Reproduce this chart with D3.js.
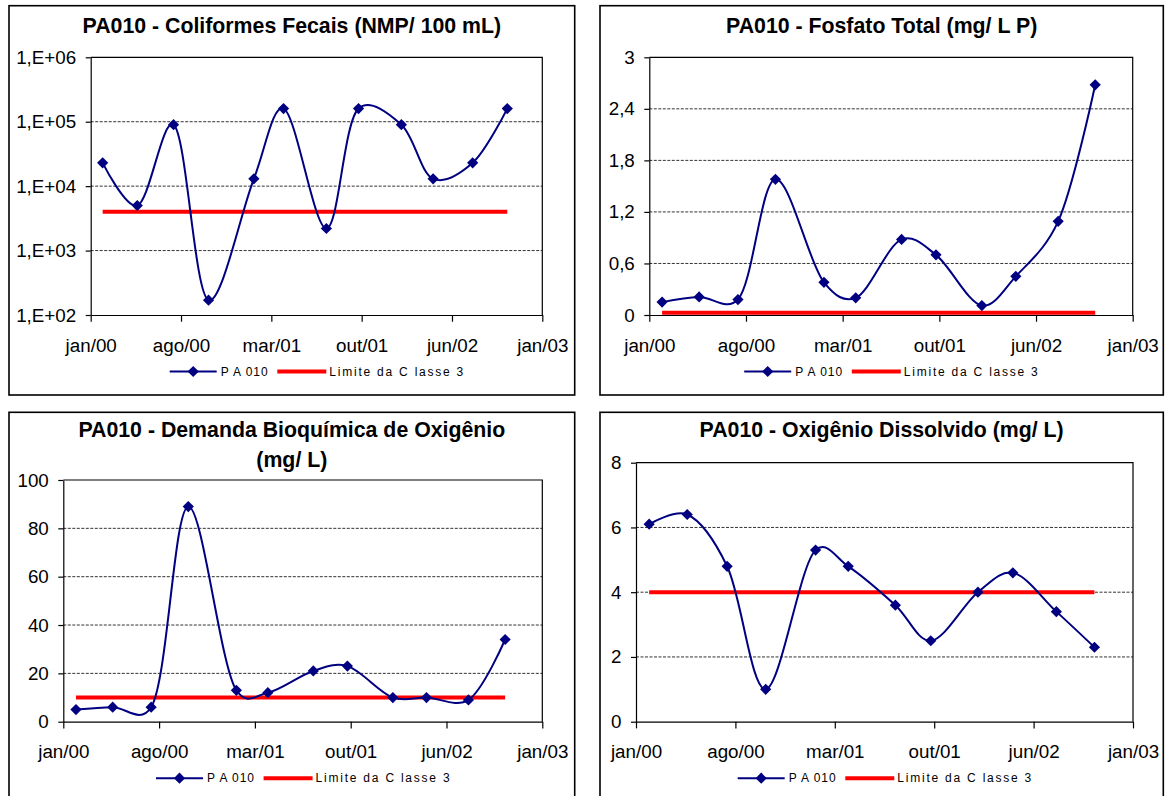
<!DOCTYPE html>
<html>
<head>
<meta charset="utf-8">
<script src="https://cdn.jsdelivr.net/npm/d3@7"></script>
<style>
  html, body { margin: 0; padding: 0; background: #fff; }
  svg { display: block; }
  text { font-family: "Liberation Sans", Arial, sans-serif; fill: #000; }
</style>
</head>
<body>
<script>
// ---------------- DATA ----------------
const sampleDates = ["2000-01-30","2000-04-23","2000-07-20","2000-10-13","2001-01-31","2001-04-13",
                     "2001-07-26","2001-10-12","2002-01-24","2002-04-11","2002-07-16","2002-10-08"];
const coliformes = [23000, 5000, 90000, 170, 13000, 160000, 2200, 160000, 90000, 13000, 23000, 160000];
const fosfato    = [0.15, 0.21, 0.18, 1.58, 0.38, 0.20, 0.88, 0.70, 0.11, 0.45, 1.09, 2.68];
const dbo        = [5, 6, 6, 89, 13, 12, 21, 23, 10, 10, 9, 34];
const od         = [6.1, 6.4, 4.8, 1.0, 5.3, 4.8, 3.6, 2.5, 4.0, 4.6, 3.4, 2.3];
const limites    = [4000, 0.025, 10, 4];

const xTickLabels = ["jan/00","ago/00","mar/01","out/01","jun/02","jan/03"];
const xDomain = ["2000-01-01","2003-01-01"];

const yTicksColiformes = [1e2, 1e3, 1e4, 1e5, 1e6];
const yLabelsColiformes = ["1,E+02","1,E+03","1,E+04","1,E+05","1,E+06"];
const yTicksFosfato = [0, 0.6, 1.2, 1.8, 2.4, 3];
const yLabelsFosfato = ["0","0,6","1,2","1,8","2,4","3"];
const yTicksDbo = [0, 20, 40, 60, 80, 100];
const yLabelsDbo = ["0","20","40","60","80","100"];
const yTicksOd = [0, 2, 4, 6, 8];
const yLabelsOd = ["0","2","4","6","8"];

const titles = [
  ["PA010 - Coliformes Fecais (NMP/ 100 mL)"],
  ["PA010 - Fosfato Total (mg/ L P)"],
  ["PA010 - Demanda Bioquímica de Oxigênio", "(mg/ L)"],
  ["PA010 - Oxigênio Dissolvido (mg/ L)"]
];
const legendLabels = ["P A 010", "Limite da C lasse 3"];

// ---------------- LAYOUT ----------------
const panels = [
  { values: coliformes, limit: limites[0], ticks: yTicksColiformes, labels: yLabelsColiformes, log: true, title: titles[0],
    box: [9, 5.7, 574.7, 395], plot: [90.7, 57.3, 542.3, 315], titleY: [33] },
  { values: fosfato, limit: limites[1], ticks: yTicksFosfato, labels: yLabelsFosfato, log: false, title: titles[1],
    box: [600, 5.7, 1163.3, 395], plot: [649.3, 57.3, 1132.7, 315], titleY: [33] },
  { values: dbo, limit: limites[2], ticks: yTicksDbo, labels: yLabelsDbo, log: false, title: titles[2],
    box: [9, 412.3, 574.7, 812], plot: [63.3, 480, 542.3, 721.7], titleY: [436.7, 466.7] },
  { values: od, limit: limites[3], ticks: yTicksOd, labels: yLabelsOd, log: false, title: titles[3],
    box: [600, 412.3, 1163.3, 812], plot: [636, 462.7, 1133, 721.7], titleY: [437.3] }
];

const NAVY = "#000080", RED = "#ff0000";
const parse = d3.timeParse("%Y-%m-%d");
const dates = sampleDates.map(parse);
const t0 = parse(xDomain[0]), t1 = parse(xDomain[1]);
const tickDates = xTickLabels.map((_, i) => new Date(+t0 + i * (t1 - t0) / (xTickLabels.length - 1)));

const svg = d3.select("body").append("svg").attr("width", 1168).attr("height", 796);
svg.append("rect").attr("width", 1168).attr("height", 796).attr("fill", "#fff");

function diamondPath(r) { return `M0,${-r}L${r},0L0,${r}L${-r},0Z`; }

panels.forEach(p => {
  const [bx0, by0, bx1, by1] = p.box;
  const [l, t, r, b] = p.plot;
  const g = svg.append("g");

  // outer chart box
  g.append("rect").attr("x", bx0).attr("y", by0).attr("width", bx1 - bx0).attr("height", by1 - by0)
    .attr("fill", "#fff").attr("stroke", "#000").attr("stroke-width", 1.6);

  // title
  const cx = (bx0 + bx1) / 2;
  p.title.forEach((line, i) => {
    g.append("text").attr("x", cx).attr("y", p.titleY[i]).attr("text-anchor", "middle")
      .attr("font-size", "21.3px").attr("font-weight", "bold").text(line);
  });

  const x = d3.scaleTime().domain([t0, t1]).range([l, r]);
  const y = (p.log ? d3.scaleLog() : d3.scaleLinear())
    .domain([p.ticks[0], p.ticks[p.ticks.length - 1]]).range([b, t]);

  // gridlines
  g.append("g").selectAll("line").data(p.ticks.slice(1, -1)).join("line")
    .attr("x1", l).attr("x2", r).attr("y1", d => y(d)).attr("y2", d => y(d))
    .attr("stroke", "#333").attr("stroke-width", 1).attr("stroke-dasharray", "3,1.5");

  // plot border (top & right)
  g.append("path").attr("d", `M${l},${t}H${r}V${b}`).attr("fill", "none")
    .attr("stroke", "#000").attr("stroke-width", 1.2);

  // axes
  const xa = g.append("g").attr("transform", `translate(0,${b})`)
    .call(d3.axisBottom(x).tickValues(tickDates).tickFormat((d, i) => xTickLabels[i])
      .tickSize(6.7).tickSizeOuter(0).tickPadding(16.5));
  const ya = g.append("g").attr("transform", `translate(${l},0)`)
    .call(d3.axisLeft(y).tickValues(p.ticks).tickFormat((d, i) => p.labels[i])
      .tickSize(5).tickSizeOuter(0).tickPadding(9.5));
  [xa, ya].forEach(a => {
    a.select(".domain").attr("stroke", "#000").attr("stroke-width", 1.2);
    a.selectAll(".tick line").attr("stroke", "#000").attr("stroke-width", 1.2);
    a.selectAll(".tick text").attr("font-size", "18.8px").attr("font-family", "'Liberation Sans', Arial, sans-serif").attr("fill", "#000");
  });

  // limit line
  g.append("line").attr("x1", x(dates[0])).attr("x2", x(dates[dates.length - 1]))
    .attr("y1", y(p.limit)).attr("y2", y(p.limit))
    .attr("stroke", RED).attr("stroke-width", 4);

  // data line (smoothed)
  const pts = dates.map((d, i) => ({ d, v: p.values[i] }));
  const line = d3.line().x(d => x(d.d)).y(d => y(d.v)).curve(d3.curveCatmullRom.alpha(0.25));
  g.append("path").attr("d", line(pts)).attr("fill", "none").attr("stroke", NAVY).attr("stroke-width", 2);
  g.append("g").selectAll("path").data(pts).join("path")
    .attr("transform", d => `translate(${x(d.d)},${y(d.v)})`)
    .attr("d", diamondPath(5.6)).attr("fill", NAVY);

  // legend
  const ly = b + 56.5;
  const seg1 = 47, txt1 = 47, gap1 = 4, gap2 = 9.6, seg2 = 49, gap3 = 3, txt2 = 134;
  const total = seg1 + gap1 + txt1 + gap2 + seg2 + gap3 + txt2;
  let lx = (l + r) / 2 - total / 2;
  const lg = g.append("g");
  lg.append("line").attr("x1", lx).attr("x2", lx + seg1).attr("y1", ly).attr("y2", ly)
    .attr("stroke", NAVY).attr("stroke-width", 2);
  lg.append("path").attr("transform", `translate(${lx + seg1 / 2},${ly})`).attr("d", diamondPath(5.6)).attr("fill", NAVY);
  lx += seg1 + gap1;
  lg.append("text").attr("x", lx).attr("y", ly + 4).attr("font-size", "12px")
    .attr("textLength", txt1).attr("lengthAdjust", "spacing").text(legendLabels[0]);
  lx += txt1 + gap2;
  lg.append("line").attr("x1", lx).attr("x2", lx + seg2).attr("y1", ly).attr("y2", ly)
    .attr("stroke", RED).attr("stroke-width", 4);
  lx += seg2 + gap3;
  lg.append("text").attr("x", lx).attr("y", ly + 4).attr("font-size", "12px")
    .attr("textLength", txt2).attr("lengthAdjust", "spacing").text(legendLabels[1]);
});
</script>
</body>
</html>
